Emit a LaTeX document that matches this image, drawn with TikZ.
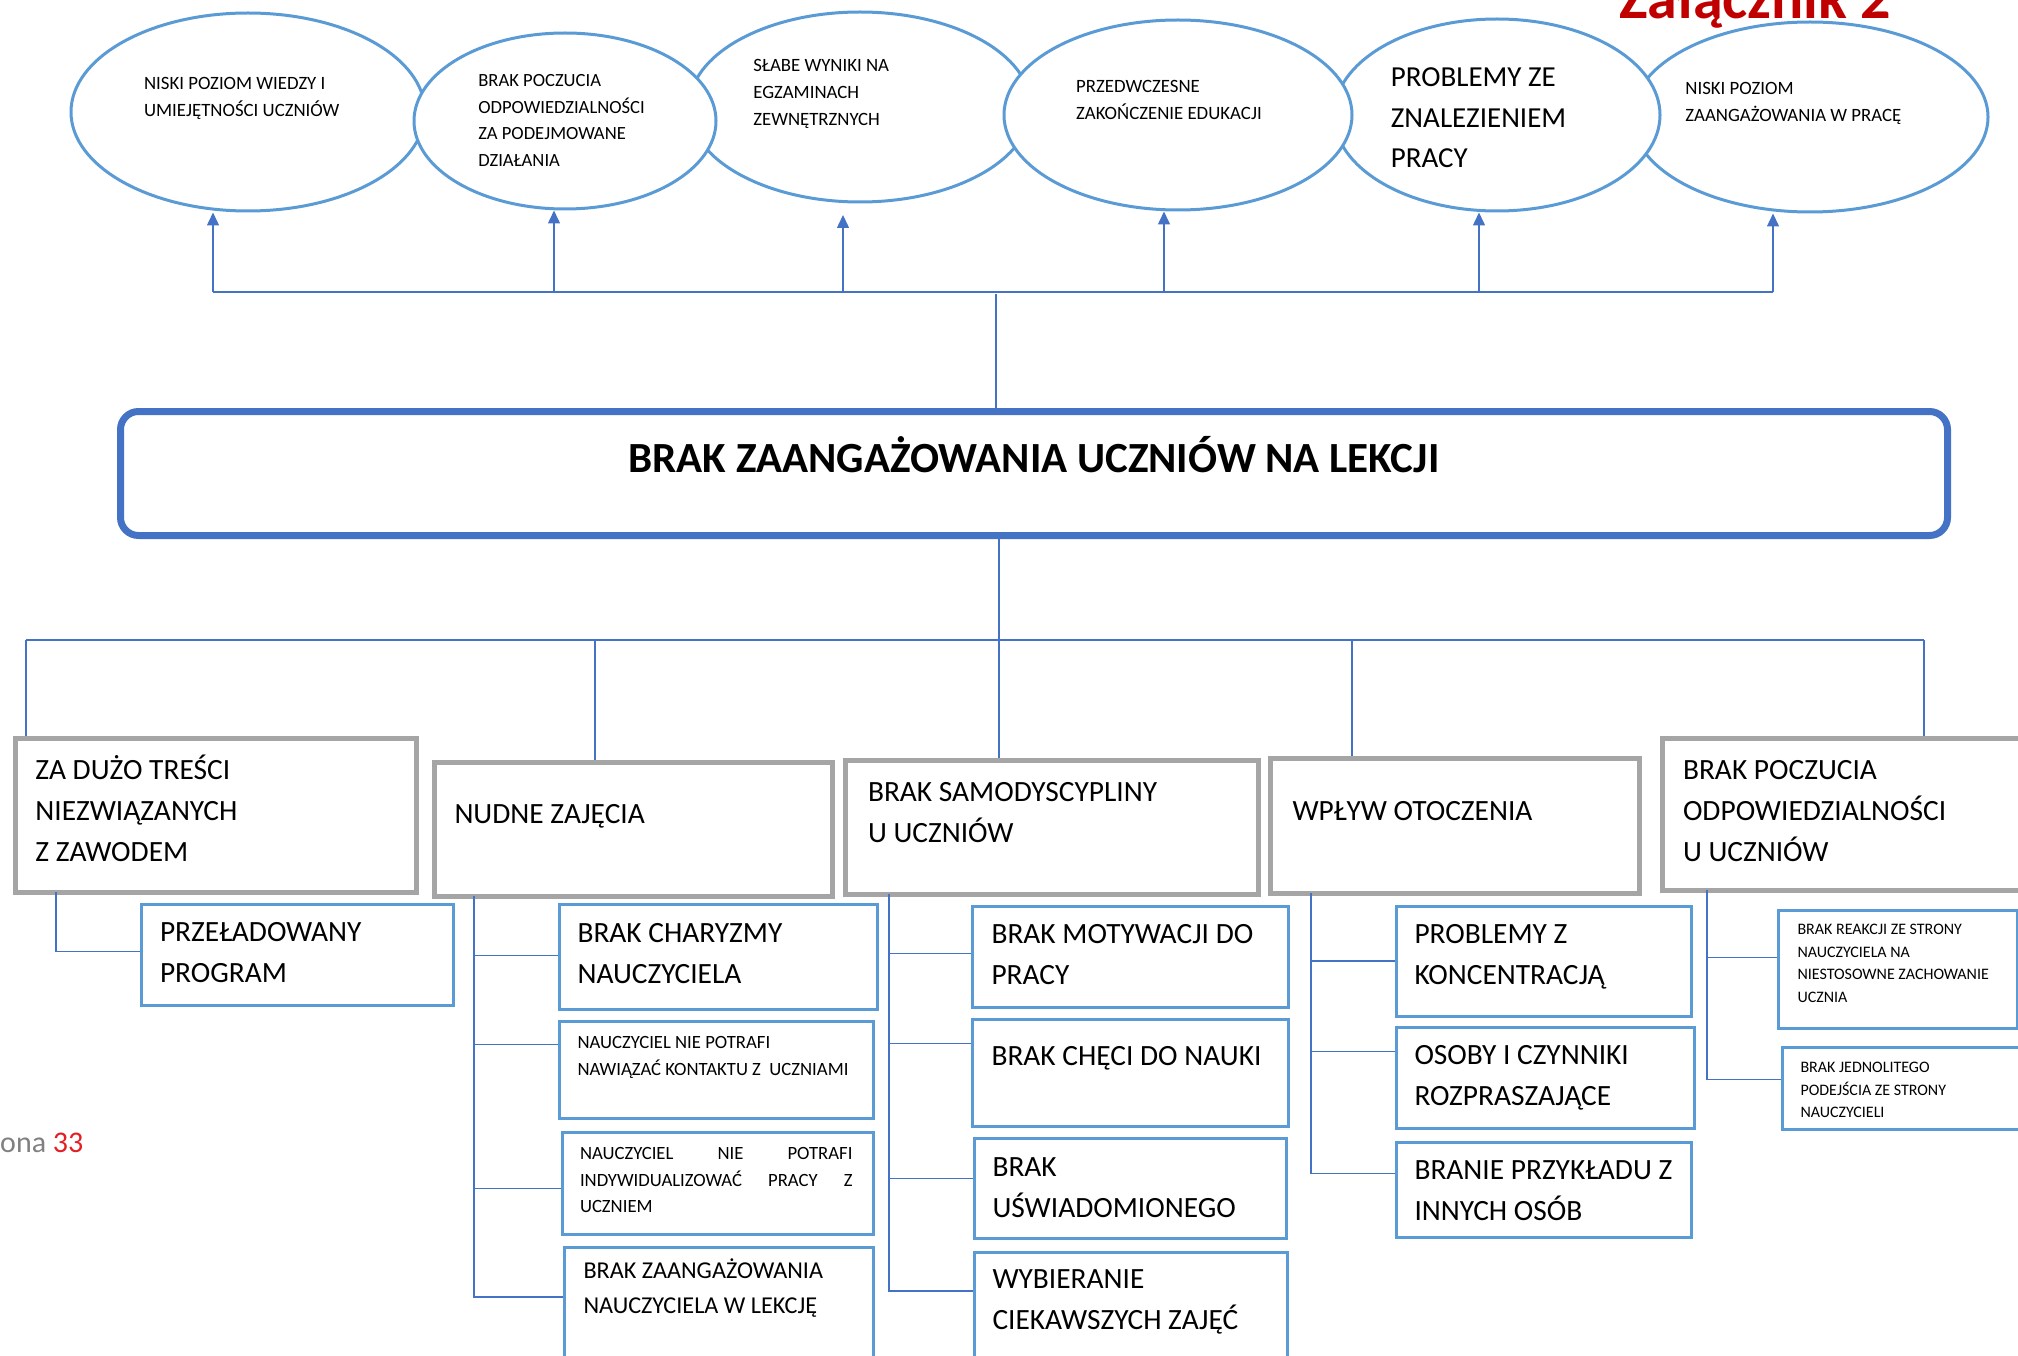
\documentclass[tikz,border=0pt]{standalone}
\usepackage{fontspec}
\setmainfont{Carlito}
\usetikzlibrary{arrows.meta,shapes.geometric}
\definecolor{elblue}{RGB}{91,155,213}
\definecolor{lnblue}{RGB}{68,114,196}
\definecolor{catgray}{RGB}{165,165,165}
\definecolor{zred}{RGB}{192,0,0}
\definecolor{pred}{RGB}{227,30,36}
\definecolor{pgray}{RGB}{128,128,128}
\newcommand\tb[5]{\begin{minipage}[t][#2pt][t]{#1pt}\raggedright\leftskip=#3pt\relax\vspace*{\dimexpr#4pt-0.9em\relax}\rule{0pt}{0.9em}#5\end{minipage}}
\tikzset{
  ell/.style={ellipse, draw=elblue, line width=3pt, fill=white, inner sep=0pt, font=\fontsize{18.8}{27}\selectfont},
  cat/.style={draw=catgray, line width=5pt, inner sep=0pt, anchor=north west, fill=white, font=\fontsize{29.4}{41}\selectfont},
  sub/.style={draw=elblue, line width=3pt, inner sep=0pt, anchor=north west, fill=white, font=\fontsize{29.4}{41}\selectfont},
  subs/.style={sub, font=\fontsize{18.7}{27}\selectfont},
  ln/.style={lnblue, line width=1.5pt},
  arr/.style={lnblue, line width=1.5pt, -{Triangle[length=13pt,width=12pt]}},
}
\begin{document}
\begin{tikzpicture}[x=1pt,y=-1pt]
\useasboundingbox (0,0) rectangle (2018,1356);
\clip (0,0) rectangle (2018,1356);

% ---- top ellipses (drawing order gives the overlaps) ----
\node[ell, minimum width=354pt, minimum height=198pt] (E1) at (248,112)
  {\tb{247.8}{138.6}{20}{47.3}{NISKI POZIOM WIEDZY I\\UMIEJĘTNOŚCI UCZNIÓW}};
\node[ell, minimum width=342pt, minimum height=190pt] (E3) at (860,107)
  {\tb{239.4}{133}{13}{31.5}{SŁABE WYNIKI NA\\EGZAMINACH\\ZEWNĘTRZNYCH}};
\node[ell, minimum width=356pt, minimum height=190pt] (E6) at (1810,117)
  {\tb{249.2}{133}{0}{44.5}{NISKI POZIOM\\ZAANGAŻOWANIA W PRACĘ}};
\node[ell, minimum width=326pt, minimum height=192pt, font=\fontsize{29}{40.5}\selectfont] (E5) at (1497,115)
  {\tb{228.2}{134.4}{8}{39.2}{PROBLEMY ZE\\ZNALEZIENIEM\\PRACY}};
\node[ell, minimum width=348pt, minimum height=190pt] (E4) at (1178,115)
  {\tb{243.6}{133}{20}{44.5}{PRZEDWCZESNE\\ZAKOŃCZENIE EDUKACJI}};
\node[ell, minimum width=302pt, minimum height=176pt, font=\fontsize{18.6}{26.5}\selectfont] (E2) at (565,121)
  {\tb{211.4}{123.2}{19}{27.6}{BRAK POCZUCIA\\ODPOWIEDZIALNOŚCI\\ZA PODEJMOWANE\\DZIAŁANIA}};

\node[anchor=base west, text=zred, font=\bfseries\fontsize{60}{70}\selectfont, inner sep=0pt] (zal) at (1619,19) {Załącznik 2};

% ---- main box ----
\node[draw=lnblue, line width=7pt, rounded corners=18pt, inner sep=0pt, anchor=north west,
      font=\bfseries\fontsize{43}{50}\selectfont] (main) at (117,408)
  {\begin{minipage}[t][124pt][t]{1827pt}\centering\vspace*{\dimexpr61pt-0.9em\relax}\rule{0pt}{0.9em}BRAK ZAANGAŻOWANIA UCZNIÓW NA LEKCJI\end{minipage}};

% ---- category boxes ----
\node[cat] (c1) at (12.5,735.5) {\tb{401}{154}{20.5}{41.5}{ZA DUŻO TREŚCI\\NIEZWIĄZANYCH\\Z ZAWODEM}};
\node[cat] (c2) at (431.5,759.5) {\tb{398}{134}{20.5}{61.5}{NUDNE ZAJĘCIA}};
\node[cat] (c3) at (842.5,757.5) {\tb{413}{134}{23}{41.5}{BRAK SAMODYSCYPLINY\\U UCZNIÓW}};
\node[cat] (c4) at (1267.5,755.5) {\tb{369}{135}{22.5}{62.5}{WPŁYW OTOCZENIA}};
\node[cat] (c5) at (1659.5,735.5) {\tb{440}{152}{21}{41.5}{BRAK POCZUCIA\\ODPOWIEDZIALNOŚCI\\U UCZNIÓW}};

% ---- sub boxes ----
\node[sub] (s11) at (139.5,902.5) {\tb{312}{101}{19}{37.5}{PRZEŁADOWANY\\PROGRAM}};

\node[sub] (s21) at (557.5,902.5) {\tb{318}{105}{18.5}{38.5}{BRAK CHARYZMY\\NAUCZYCIELA}};
\node[subs] (s22) at (557.5,1019.5) {\tb{314}{97}{18.5}{27.5}{NAUCZYCIEL NIE POTRAFI\\NAWIĄZAĆ KONTAKTU Z~ UCZNIAMI}};
\node[subs, font=\fontsize{18.7}{26.5}\selectfont] (s23) at (560.5,1130.5) {\tb{311}{102}{18}{27.5}{\rightskip=20.5pt\relax NAUCZYCIEL\hfill NIE\hfill POTRAFI\\INDYWIDUALIZOWAĆ\hfill PRACY\hfill Z\\UCZNIEM}};
\node[sub, font=\fontsize{24.2}{35}\selectfont] (s24) at (562.5,1245.5) {\tb{309}{155}{19.5}{31.5}{BRAK ZAANGAŻOWANIA\\NAUCZYCIELA W LEKCJĘ}};

\node[sub] (s31) at (970.5,904.5) {\tb{316}{101}{19.5}{37.5}{BRAK MOTYWACJI DO\\PRACY}};
\node[sub] (s32) at (970.5,1017.5) {\tb{316}{107}{19.5}{46.5}{BRAK CHĘCI DO NAUKI}};
\node[sub] (s33) at (972.5,1136.5) {\tb{312}{100}{18.5}{38.5}{BRAK\\UŚWIADOMIONEGO}};
\node[sub] (s34) at (972.5,1250.5) {\tb{313}{150}{18.5}{36.5}{WYBIERANIE\\CIEKAWSZYCH ZAJĘĆ}};

\node[sub] (s41) at (1394.5,904.5) {\tb{295}{110}{18.5}{37.5}{PROBLEMY Z\\KONCENTRACJĄ}};
\node[sub] (s42) at (1394.5,1025.5) {\tb{298}{101}{18.5}{37.5}{OSOBY I CZYNNIKI\\ROZPRASZAJĄCE}};
\node[sub] (s43) at (1394.5,1140.5) {\tb{295}{95}{18.5}{37.5}{BRANIE PRZYKŁADU Z\\INNYCH OSÓB}};

\node[subs, font=\fontsize{16}{22.7}\selectfont] (s51) at (1776.5,908.5) {\tb{239}{118}{19.5}{24.5}{BRAK REAKCJI ZE STRONY\\NAUCZYCIELA NA\\NIESTOSOWNE ZACHOWANIE\\UCZNIA}};
\node[subs, font=\fontsize{16}{22.5}\selectfont] (s52) at (1780.5,1045.5) {\tb{250}{82}{18.5}{25.5}{BRAK JEDNOLITEGO\\PODEJŚCIA ZE STRONY\\NAUCZYCIELI}};

% ---- page number fragment ----
\node[anchor=base west, inner sep=0pt, font=\fontsize{30}{36}\selectfont, text=pgray] (pg) at (0,1152) {ona \textcolor{pred}{33}};

% ---- top connectors ----
\coordinate (a1) at (213,292);
\coordinate (a2) at (554,292);
\coordinate (a3) at (843,292);
\coordinate (a3t) at (843,215);
\coordinate (a4) at (1164,292);
\coordinate (a5) at (1479,292);
\coordinate (a6) at (1773,292);
\coordinate (mt) at (996,294);
\draw[ln] (a1) -- (a6);
\draw[arr] (a1) -- (a1 |- E1.south);
\draw[arr] (a2) -- (a2 |- E2.south);
\draw[arr] (a3) -- (a3t);
\draw[arr] (a4) -- (a4 |- E4.south);
\draw[arr] (a5) -- (a5 |- E5.south);
\draw[arr] (a6) -- (a6 |- E6.south);
\draw[ln] (main.north -| mt) -- (mt);

% ---- bottom bus ----
\coordinate (b1) at (26,640);
\coordinate (b2) at (595,640);
\coordinate (b3) at (999,640);
\coordinate (b4) at (1352,640);
\coordinate (b5) at (1924,640);
\draw[ln] (b1) -- (b5);
\draw[ln] (main.south -| b3) -- (c3.north -| b3);
\draw[ln] (b1) -- (c1.north -| b1);
\draw[ln] (b2) -- (c2.north -| b2);
\draw[ln] (b4) -- (c4.north -| b4);
\draw[ln] (b5) -- (c5.north -| b5);

% ---- branches ----
\coordinate (t1) at (56,892);
\coordinate (t2) at (474,896);
\coordinate (t3) at (889,894);
\coordinate (t4) at (1311,893);
\coordinate (t5) at (1707,890);
\draw[ln] (t1) |- ([yshift=3pt]s11.west);
\draw[ln] (t2) |- ([yshift=1pt]s21.west);
\draw[ln] (t2) |- ([yshift=25pt]s22.west);
\draw[ln] (t2) |- ([yshift=-5.5pt]s23.west);
\draw[ln] (t2) |- ([yshift=27.75pt]s24.west);
\draw[ln] (t3) |- ([yshift=3pt]s31.west);
\draw[ln] (t3) |- ([yshift=29pt]s32.west);
\draw[ln] (t3) |- ([yshift=9.5pt]s33.west);
\draw[ln] (t3) |- ([yshift=36.25pt]s34.west);
\draw[ln] (t4) |- (s41.west);
\draw[ln] (t4) |- ([yshift=26pt]s42.west);
\draw[ln] (t4) |- ([yshift=16pt]s43.west);
\draw[ln] (t5) |- ([yshift=11.5pt]s51.west);
\draw[ln] (t5) |- ([yshift=8.5pt]s52.west);
\end{tikzpicture}
\end{document}
